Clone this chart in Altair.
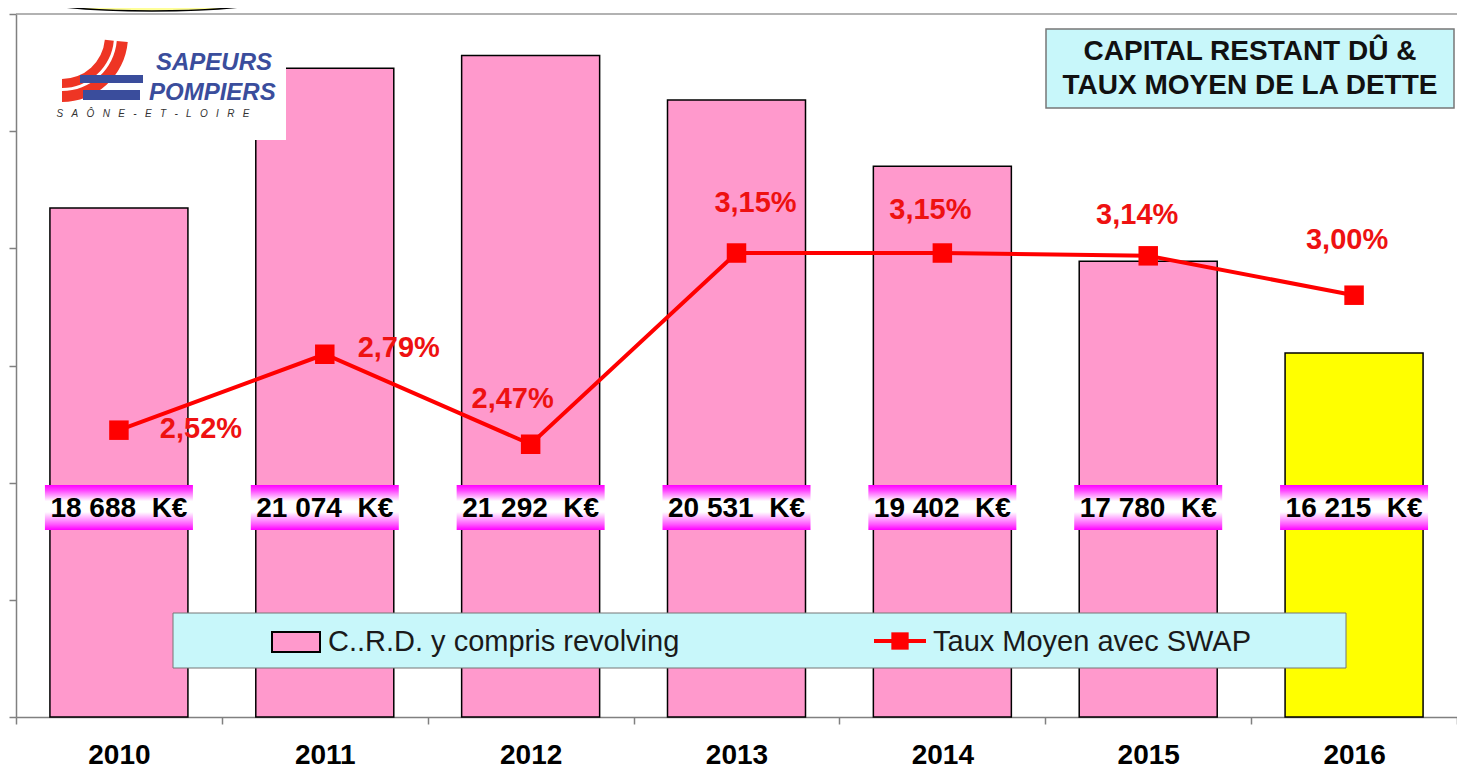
import altair as alt
import pandas as pd

# ---------------- data ----------------
years = ["2010", "2011", "2012", "2013", "2014", "2015", "2016"]
crd_keur = [18688, 21074, 21292, 20531, 19402, 17780, 16215]
taux_moyen = [2.52, 2.79, 2.47, 3.15, 3.15, 3.14, 3.00]
crd_ticks = [10000, 12000, 14000, 16000, 18000, 20000, 22000]

title_lines = ["CAPITAL RESTANT DÛ &", "TAUX MOYEN DE LA DETTE"]
legend_bar_label = "C..R.D. y compris revolving"
legend_line_label = "Taux Moyen avec SWAP"
logo_top = "SAPEURS"
logo_mid = "POMPIERS"
logo_sub = "\u00a0\u00a0\u00a0".join(list("SAÔNE-ET-LOIRE"))

df = pd.DataFrame({"year": years, "crd": crd_keur, "taux": taux_moyen})
df["crd_label"] = [f"{v:,}".replace(",", " ") + "\u00a0\u00a0K€" for v in crd_keur]
df["taux_label"] = [f"{v:.2f}".replace(".", ",") + "%" for v in taux_moyen]

# ---------------- styles ----------------
FONT = "Liberation Sans, Arial, sans-serif"
W, H = 1441, 703
PINK = "#ff99cc"
YELLOW = "#ffff00"
RED = "#ff0000"
CYAN = "#c8f7fa"
GRAY = "#808080"
LOGO_BLUE = "#3a4d9c"
LOGO_RED = "#ee3524"

# label offsets (style, pixels) for the percentage labels
pct_offsets = {
    "2010": (82, -1), "2011": (74, -6), "2012": (-18, -45), "2013": (19, -50),
    "2014": (-12, -43), "2015": (-11, -41), "2016": (-7, -55),
}

x_scale = alt.Scale(domain=years, paddingInner=0, paddingOuter=0)
X = alt.X("year:N", scale=x_scale, sort=years,
          axis=alt.Axis(title=None, labelAngle=0, labelFontSize=28, labelFontWeight="bold",
                        labelColor="black", labelFont=FONT, labelPadding=17,
                        tickSize=7, tickColor=GRAY, tickWidth=1.5, tickBand="extent",
                        domainColor=GRAY, domainWidth=1.5, grid=False))
crd_scale = alt.Scale(domain=[10000, 22000], nice=False, zero=False)
taux_scale = alt.Scale(domain=[1.5, 4.0], nice=False, zero=False)

base = alt.Chart(df)
one = alt.Chart(pd.DataFrame({"k": [0]}))

bars = base.mark_bar(width=138, stroke="black", strokeWidth=1.5).encode(
    x=X,
    y=alt.Y("crd:Q", scale=crd_scale,
            axis=alt.Axis(title=None, labels=False, values=crd_ticks, tickSize=7,
                          tickColor=GRAY, tickWidth=1.5, domainColor=GRAY,
                          domainWidth=1.5, grid=False)),
    y2=alt.datum(10000),
    color=alt.condition(alt.datum.year == "2016", alt.value(YELLOW), alt.value(PINK)),
)

top_line = one.mark_rule(color="#999999", strokeWidth=1.5).encode(
    x=alt.value(0), x2=alt.value(W), y=alt.value(0))

grad = alt.LinearGradient(
    gradient="linear", x1=0, x2=0, y1=0, y2=1,
    stops=[alt.GradientStop(color="#ff00ff", offset=0),
           alt.GradientStop(color="#ff44ff", offset=0.12),
           alt.GradientStop(color="#ffffff", offset=0.36),
           alt.GradientStop(color="#ffffff", offset=0.6),
           alt.GradientStop(color="#ff55ff", offset=0.88),
           alt.GradientStop(color="#ff00ff", offset=1)])

val_boxes = base.mark_bar(width=148, fill=grad).encode(
    x=X, y=alt.value(471), y2=alt.value(516))
val_text = base.mark_text(font=FONT, fontSize=28, fontWeight="bold", color="black",
                          align="center", baseline="middle").encode(
    x=X, y=alt.value(495), text="crd_label:N")

# legend box
leg_box = one.mark_rect(fill=CYAN, stroke="#777777", strokeWidth=1).encode(
    x=alt.value(157), x2=alt.value(1330), y=alt.value(599), y2=alt.value(654))
leg_swatch = one.mark_rect(fill=PINK, stroke="black", strokeWidth=2).encode(
    x=alt.value(256), x2=alt.value(304), y=alt.value(618), y2=alt.value(638))
leg_txt1 = one.mark_text(font=FONT, fontSize=29, color="#1a1a1a", align="left",
                         baseline="middle").encode(
    x=alt.value(312), y=alt.value(628), text=alt.value(legend_bar_label))
leg_line = one.mark_rule(color=RED, strokeWidth=4).encode(
    x=alt.value(858), x2=alt.value(910), y=alt.value(627))
leg_mark = one.mark_point(shape="square", filled=True, size=300, color=RED, opacity=1).encode(
    x=alt.value(884), y=alt.value(627))
leg_txt2 = one.mark_text(font=FONT, fontSize=29, color="#1a1a1a", align="left",
                         baseline="middle").encode(
    x=alt.value(917), y=alt.value(628), text=alt.value(legend_line_label))

# rate line
Y_taux = alt.Y("taux:Q", scale=taux_scale, axis=None)
line = base.mark_line(color=RED, strokeWidth=4).encode(x=X, y=Y_taux)
pts = base.mark_point(shape="square", filled=True, size=380, color=RED, opacity=1).encode(
    x=X, y=Y_taux)
pct_layers = []
for yr in years:
    dx, dy = pct_offsets[yr]
    pct_layers.append(
        base.transform_filter(alt.datum.year == yr).mark_text(
            font=FONT, fontSize=29, fontWeight="bold", color="#ee1111",
            align="center", baseline="middle", dx=dx, dy=dy).encode(
            x=X, y=Y_taux, text="taux_label:N"))

# title box
title_box = one.mark_rect(fill=CYAN, stroke="#777777", strokeWidth=1.5).encode(
    x=alt.value(1030), x2=alt.value(1438), y=alt.value(15), y2=alt.value(94))
title_t1 = one.mark_text(font=FONT, fontSize=28, fontWeight="bold", color="#111111",
                         align="center", baseline="middle").encode(
    x=alt.value(1234), y=alt.value(38), text=alt.value(title_lines[0]))
title_t2 = one.mark_text(font=FONT, fontSize=28, fontWeight="bold", color="#111111",
                         align="center", baseline="middle").encode(
    x=alt.value(1234), y=alt.value(72), text=alt.value(title_lines[1]))

# logo
logo_bg = one.mark_rect(fill="white").encode(
    x=alt.value(30), x2=alt.value(270), y=alt.value(14), y2=alt.value(126))
arc_outer = one.mark_arc(theta=1.66, theta2=3.1416, radius=66, radius2=55,
                         color=LOGO_RED).encode(x=alt.value(46), y=alt.value(22))
arc_inner = one.mark_arc(theta=1.66, theta2=3.1416, radius=52, radius2=43,
                         color=LOGO_RED).encode(x=alt.value(46), y=alt.value(22))
blue1 = one.mark_rect(fill=LOGO_BLUE).encode(
    x=alt.value(64), x2=alt.value(127), y=alt.value(61), y2=alt.value(69))
blue2 = one.mark_rect(fill=LOGO_BLUE).encode(
    x=alt.value(67), x2=alt.value(124), y=alt.value(76), y2=alt.value(86))
logo_t1 = one.mark_text(font=FONT, fontSize=24, fontWeight="bold", fontStyle="italic",
                        color=LOGO_BLUE, align="left", baseline="alphabetic").encode(
    x=alt.value(140), y=alt.value(56), text=alt.value(logo_top))
logo_t2 = one.mark_text(font=FONT, fontSize=24, fontWeight="bold", fontStyle="italic",
                        color=LOGO_BLUE, align="left", baseline="alphabetic").encode(
    x=alt.value(133), y=alt.value(86), text=alt.value(logo_mid))
logo_t3 = one.mark_text(font=FONT, fontSize=10, fontStyle="italic", color="#333333",
                        align="center", baseline="middle").encode(
    x=alt.value(137), y=alt.value(100), text=alt.value(logo_sub))

# callout bubble (cut off at the top)
callout = one.mark_point(shape="M -1 0 A 1 0.112 0 1 0 1 0 A 1 0.112 0 1 0 -1 0 Z",
                         size=62500, fill="#ffff99", stroke="black", strokeWidth=1.5,
                         opacity=1, fillOpacity=1).encode(
    x=alt.value(136), y=alt.value(-17))

chart = alt.layer(
    bars, top_line, val_boxes, val_text,
    leg_box, leg_swatch, leg_txt1, leg_line, leg_mark, leg_txt2,
    line, pts, *pct_layers,
    logo_bg, arc_outer, arc_inner, blue1, blue2, logo_t1, logo_t2, logo_t3,
    title_box, title_t1, title_t2, callout,
).resolve_scale(y="independent").properties(
    width=W, height=H, autosize="none",
    padding={"left": 8, "top": 6, "right": 0, "bottom": 53},
    background="white",
).configure_view(stroke=None)

chart.save("out.html", embed_options={"renderer": "svg", "actions": False})
